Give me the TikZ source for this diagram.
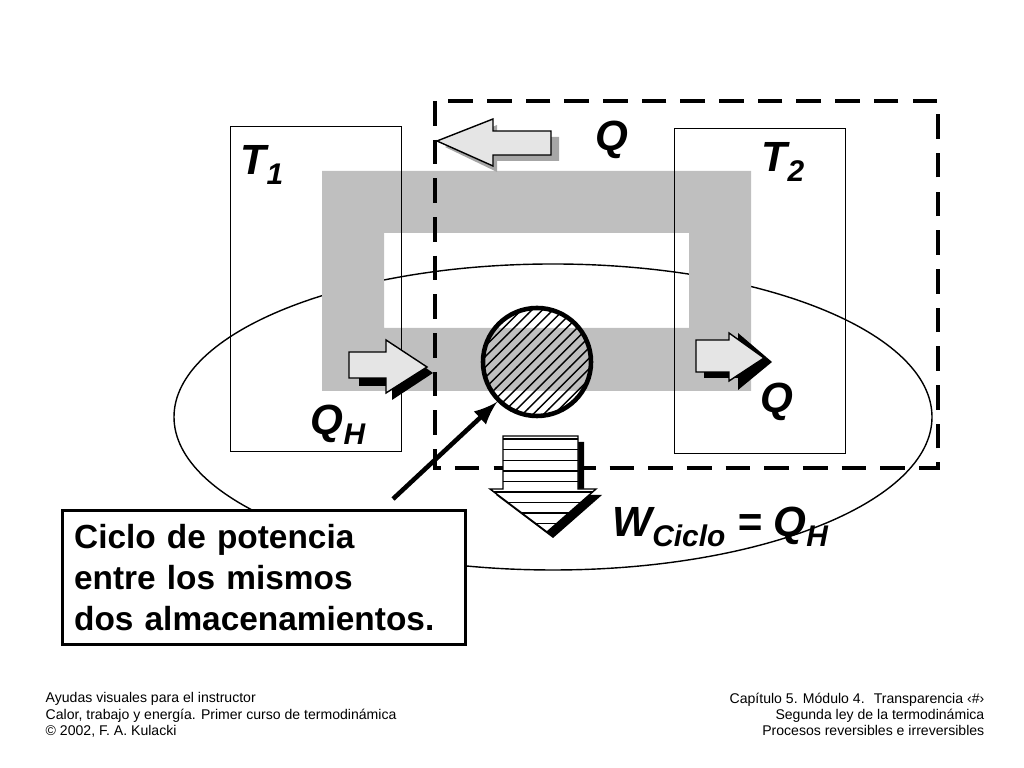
\documentclass[tikz,border=0pt]{standalone}
\usepackage{fontspec}
\setmainfont{Liberation Sans}
\usetikzlibrary{patterns,shapes.geometric}
\newcommand{\lsub}[1]{\raisebox{-0.45ex}{\fontsize{8.5}{9}\selectfont #1}}
\tikzset{
    resbox/.style={draw,thin},
    lbl/.style={font=\fontsize{12}{14}\selectfont\bfseries\itshape},
    foot/.style={font=\fontsize{4}{4.6}\selectfont,align=left,inner sep=0pt},
    wavy/.style={draw,thin,fill=gray!20},
}
\begin{document}
\begin{tikzpicture}[x=0.01cm,y=-0.01cm,>=latex]
\useasboundingbox (0,0) rectangle (1024,768);
% ellipse behind the loop
\draw[thin] (553,417) ellipse [x radius=379, y radius=153];
% gray loop
\fill[gray!50,even odd rule] (322,171) rectangle (751,391) (384,233) rectangle (689,328);
% reservoirs
\node[resbox,minimum width=171*0.01cm,minimum height=325*0.01cm,anchor=north west] (t1) at (230,126) {};
\node[resbox,minimum width=171*0.01cm,minimum height=325*0.01cm,anchor=north west] (t2) at (674,128) {};
\node[lbl] at (262,165) {T\lsub{1}};
\node[lbl] at (783,162) {T\lsub{2}};
% control volume
\draw[line width=1.3pt,dash pattern=on 7pt off 4pt] (435,101) rectangle (938,468);
% engine
\node[circle,draw,line width=1.3pt,minimum size=108*0.01cm,pattern=north east lines] (eng) at (537,362) {};
% Q arrow top
\fill[gray!70] (445,147) -- (497,125) -- (497,137) -- (559,137) -- (559,161) -- (497,161) -- (497,172) -- cycle;
\draw[wavy] (437,141) -- (493,119) -- (493,131) -- (551,131) -- (551,155) -- (493,155) -- (493,166) -- cycle;
\node[lbl] (qc) at (612,140) {Q};
% QH arrow
\fill (359,358) -- (392,358) -- (392,344) -- (433,373) -- (392,400) -- (392,386) -- (359,386) -- cycle;
\draw[wavy] (349,352) -- (386,352) -- (386,340) -- (427,367) -- (386,393) -- (386,378) -- (349,378) -- cycle;
\node[lbl] at (338,425) {Q\lsub{H}};
% Q out arrow
\fill (704,347) -- (738,347) -- (738,333) -- (772,362) -- (738,390) -- (738,378) -- (704,378) -- cycle;
\draw[wavy] (696,340) -- (729,340) -- (729,333) -- (764,358) -- (729,381) -- (729,372) -- (696,372) -- cycle;
\node[lbl] at (777,402) {Q};
% work arrow
\fill (509,442) -- (584,442) -- (584,495) -- (602,495) -- (553,538) -- (496,495) -- (509,495) -- cycle;
\fill[white] (503,436) -- (578,436) -- (578,489) -- (596,489) -- (547,532) -- (490,489) -- (503,489) -- cycle;
\draw[thin,pattern=horizontal lines] (503,436) -- (578,436) -- (578,489) -- (596,489) -- (547,532) -- (490,489) -- (503,489) -- cycle;
\node[lbl,anchor=west] at (600,527) {W\lsub{Ciclo} = Q\lsub{H}};
% caption
\node[draw,thick,fill=white,anchor=north west,minimum width=396*0.01cm,minimum height=134*0.01cm,align=left,text width=380*0.01cm,font=\fontsize{9.5}{11.7}\selectfont\bfseries] (cap) at (61,509) {Ciclo de potencia\\entre los mismos\\dos almacenamientos.};
\coordinate (pt) at (393,499);
\draw[->,line width=1.3pt] (pt) -- (eng.-135);
% footer
\node[foot,anchor=north west] at (45,692) {Ayudas visuales para el instructor\\Calor, trabajo y energía. Primer curso de termodinámica\\© 2002, F. A. Kulacki};
\node[foot,anchor=north east,align=right] at (985,692) {Capítulo 5. Módulo 4.~ Transparencia ‹\#›\\Segunda ley de la termodinámica\\Procesos reversibles e irreversibles};
\end{tikzpicture}
\end{document}
